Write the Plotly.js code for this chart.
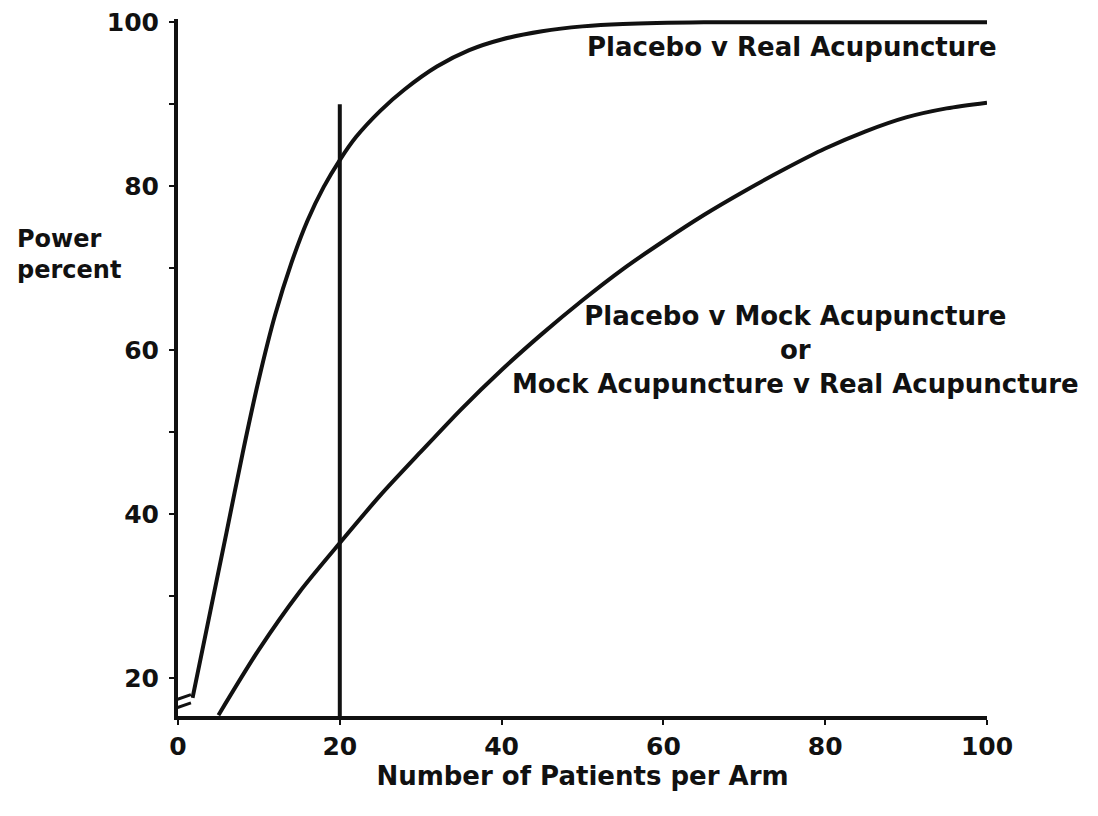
<!DOCTYPE html>
<html>
<head>
<meta charset="utf-8">
<script src="https://cdn.plot.ly/plotly-3.0.1.min.js"></script>
<style>html,body{margin:0;padding:0;background:#fff}#chart{width:1098px;height:816px}</style>
</head>
<body>
<div id="chart"></div>
<script>
// Placebo v Real Acupuncture
const realX = [1.8, 4, 6, 8, 10, 12, 14, 16, 18, 20, 22, 25, 28, 32, 36, 40, 45, 50, 55, 65, 80, 100];
const realY = [17.6, 28.2, 37.8, 47.5, 56.5, 64.3, 70.6, 75.8, 79.9, 83.2, 86.0, 89.2, 91.8, 94.6, 96.6, 97.9, 98.9, 99.5, 99.8, 100, 100, 100];
// Placebo v Mock / Mock v Real Acupuncture
const mockX = [5, 10, 15, 20, 25, 30, 35, 40, 45, 50, 55, 60, 65, 70, 75, 80, 85, 90, 95, 100];
const mockY = [15.5, 23.5, 30.5, 36.5, 42.3, 47.6, 52.8, 57.6, 62.0, 66.1, 69.9, 73.3, 76.5, 79.4, 82.1, 84.6, 86.7, 88.4, 89.5, 90.2];
// reference line at 20 patients per arm
const refX = [20, 20];
const refY = [15.4, 90];

const xTicks = [0, 20, 40, 60, 80, 100];
const yTickVals = [20, 30, 40, 50, 60, 70, 80, 90, 100];
const yTickText = ['20', '', '40', '', '60', '', '80', '', '100'];

const ink = '#111';
const fam = 'DejaVu Sans, Arial, sans-serif';
const font = {family: fam, size: 26, color: ink, weight: 'bold'};

const lineStyle = {color: ink, width: 4, shape: 'spline', smoothing: 0.8};

const traces = [
  {x: realX, y: realY, mode: 'lines', line: lineStyle, name: 'Placebo v Real Acupuncture', hoverinfo: 'skip'},
  {x: mockX, y: mockY, mode: 'lines', line: lineStyle, name: 'Placebo v Mock Acupuncture', hoverinfo: 'skip'},
  {x: refX, y: refY, mode: 'lines', line: {color: ink, width: 4}, name: '20 per arm', hoverinfo: 'skip'}
];

const layout = {
  width: 1098, height: 816,
  margin: {l: 178, r: 111, t: 19, b: 100},
  paper_bgcolor: '#fff', plot_bgcolor: '#fff',
  showlegend: false,
  font,
  xaxis: {
    range: [0, 100], tickvals: xTicks, ticktext: xTicks.map(String),
    showgrid: false, zeroline: false, showline: true, linecolor: ink, linewidth: 4,
    ticks: 'outside', ticklen: 5, tickwidth: 2, tickcolor: ink,
    tickfont: {family: fam, size: 25, color: ink, weight: 'bold'},
    ticklabelstandoff: 0,
    title: {text: 'Number of Patients per Arm', font, standoff: 6}
  },
  yaxis: {
    range: [15.4, 100.4], tickvals: yTickVals, ticktext: yTickText,
    showgrid: false, zeroline: false, showline: true, linecolor: ink, linewidth: 4,
    ticks: 'outside', ticklen: 5, tickwidth: 2, tickcolor: ink,
    tickfont: {family: fam, size: 25, color: ink, weight: 'bold'},
    ticklabelstandoff: 5
  },
  shapes: [
    {type: 'path', xref: 'x', yref: 'y', layer: 'above',
     path: 'M -1.6,16.0 L 1.6,17.1 L 1.6,18.0 L -1.6,16.9 Z',
     fillcolor: '#fff', line: {width: 0}},
    {type: 'line', xref: 'x', yref: 'y', layer: 'above', x0: -1.6, y0: 16.9, x1: 1.6, y1: 18.0, line: {color: ink, width: 3}},
    {type: 'line', xref: 'x', yref: 'y', layer: 'above', x0: -1.6, y0: 15.9, x1: 1.6, y1: 17.0, line: {color: ink, width: 3}}
  ],
  annotations: [
    {text: 'Placebo v Real Acupuncture', x: 75.9, y: 96.95, xref: 'x', yref: 'y', showarrow: false,
     xanchor: 'center', yanchor: 'middle', font},
    {text: 'Placebo v Mock Acupuncture<br>or<br>Mock Acupuncture v Real Acupuncture', x: 76.3, y: 60.0,
     xref: 'x', yref: 'y', showarrow: false, xanchor: 'center', yanchor: 'middle', align: 'center', font},
    {text: 'Power<br>percent', x: -0.2015, y: 0.662, xref: 'paper', yref: 'paper', showarrow: false,
     xanchor: 'left', yanchor: 'middle', align: 'left', font: {family: fam, size: 24, color: ink, weight: 'bold'}}
  ]
};

Plotly.newPlot('chart', traces, layout, {displayModeBar: false, staticPlot: true});
</script>
</body>
</html>
